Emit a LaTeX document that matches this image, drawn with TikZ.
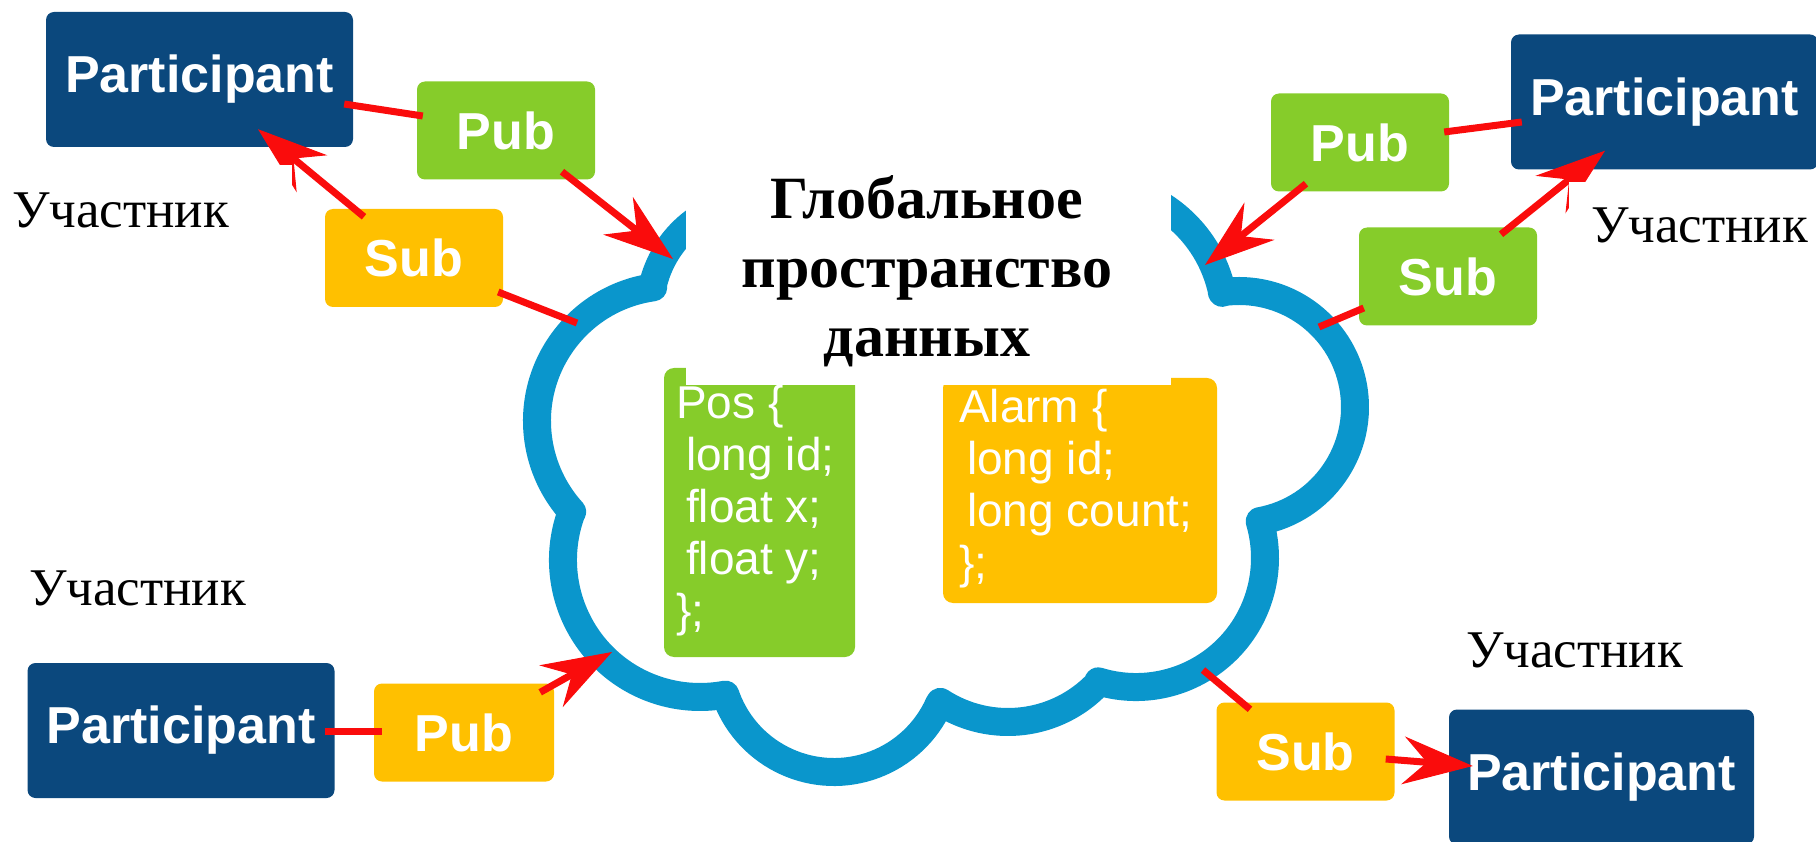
\documentclass[tikz,border=0pt]{standalone}
\usepackage{fontspec}
\setmainfont{Liberation Serif}
\newfontfamily\boxfont{Liberation Sans}
\usetikzlibrary{arrows.meta,calc}

\definecolor{partblue}{RGB}{11,72,125}
\definecolor{pubgreen}{RGB}{134,204,42}
\definecolor{subyellow}{RGB}{255,192,0}
\definecolor{cloudblue}{RGB}{10,150,204}
\definecolor{linkred}{RGB}{250,12,12}

\tikzset{
  box/.style={rectangle, rounded corners=8pt, inner sep=0pt, text=white,
    font=\boxfont\bfseries\fontsize{52}{60}\selectfont},
  partbox/.style={box, fill=partblue, minimum width=307pt, minimum height=135pt},
  smallbox/.style={box, minimum width=178pt, minimum height=98pt},
  greenbox/.style={smallbox, fill=pubgreen},
  yellowbox/.style={smallbox, fill=subyellow},
  typebox/.style={rectangle, rounded corners=10pt, inner sep=0pt},
  code/.style={align=left, inner sep=0pt, text=white, anchor=north west,
    font=\boxfont\fontsize{46}{52}\selectfont},
  heading/.style={align=center, inner sep=0pt, anchor=north,
    font=\bfseries\fontsize{60}{69}\selectfont},
  lbl/.style={inner sep=0pt, anchor=base west, font=\fontsize{53}{60}\selectfont},
  link/.style={draw=linkred, line width=7pt},
  flow/.style={link, -{Stealth[length=70pt, width=48pt, inset=24pt, line width=1pt]}},
}

\begin{document}
\begin{tikzpicture}[x=1pt, y=-1pt]
\useasboundingbox (0,0) rectangle (1816,842);

% the data space cloud, drawn lobe by lobe
\draw[cloudblue, line width=28pt, line join=round]
  (760,310) ++(270:110) arc[start angle=270, end angle=192, radius=110]
  -- ($(672,421)+(262:135)$) arc[start angle=262, end angle=137.7, radius=135]
  -- ($(700,560)+(200.6:137)$) arc[start angle=200.6, end angle=79.3, radius=137]
  -- ($(834,657)+(159.3:115)$) arc[start angle=159.3, end angle=24.1, radius=115]
  -- ($(1008,598)+(123.1:124)$) arc[start angle=123.1, end angle=43.0, radius=124]
  -- ($(1136,558)+(107.0:129)$) arc[start angle=107.0, end angle=-16.2, radius=129]
  -- ($(1239,407)+(79.7:116)$) arc[start angle=79.7, end angle=-98.5, radius=116]
  -- ($(1090,320)+(-11.6:135)$) arc[start angle=-11.6, end angle=-90, radius=135]
  -- cycle;

% data types inside the cloud
\node[typebox, fill=pubgreen, minimum width=191pt, minimum height=289pt] (pos) at (759.5,512.5) {};
\node[typebox, fill=subyellow, minimum width=274pt, minimum height=225pt] (alarm) at (1080,490.5) {};

% white panel behind the heading
\fill[white] (686,0) rectangle (1171,385);

\node[code] (posText) at (676,381.6)
  {\strut Pos \{\\\strut\hspace*{10pt}long id;\\\strut\hspace*{10pt}float x;\\\strut\hspace*{10pt}float y;\\\strut\};};
\node[code] (alarmText) at (959,385.6)
  {\strut Alarm \{\\\strut\hspace*{8pt}long id;\\\strut\hspace*{8pt}long count;\\\strut\};};

\node[heading] (gds) at (927,169.7)
  {\strut Глобальное\\\strut пространство\\\strut данных};

% cloud attachment points
\coordinate (cTLin)  at (673,259);
\coordinate (cTLsub) at (577,323);
\coordinate (cTRin)  at (1205,265);
\coordinate (cTRsub) at (1319,327);
\coordinate (cBLin)  at (612,652);
\coordinate (cBRsub) at (1203,670);

% participants with their publishers and subscribers
\node[partbox] (tlpart) at (199.5,79.5) {Participant};
\node[greenbox] (tlpub) at (506,130.5) {Pub};
\node[yellowbox] (tlsub) at (414,258) {Sub};

\node[partbox] (trpart) at (1664.5,102) {Participant};
\node[greenbox] (trpub) at (1360,142.5) {Pub};
\node[greenbox] (trsub) at (1448,276.5) {Sub};

\node[partbox] (blpart) at (181,730.5) {Participant};
\node[yellowbox, minimum width=180pt] (blpub) at (464,732.5) {Pub};

\node[yellowbox] (brsub) at (1305.5,751.5) {Sub};
\node[partbox, minimum width=305pt] (brpart) at (1601.5,777) {Participant};

% connectors
\draw[link] ($(tlpart.east)+(-9,24.5)$) -- ($(tlpub.west)+(6,-14.5)$);
\draw[flow] ($(tlsub.north)+(-50,8)$) -- ($(tlpart.south)+(58.5,-18)$);
\draw[flow] ($(tlpub.south)+(56,-8)$) -- (cTLin);
\draw[link] ($(tlsub.east)+(-5,34)$) -- (cTLsub);

\draw[link] ($(trpart.west)+(11,20)$) -- ($(trpub.east)+(-5,-10.5)$);
\draw[flow] ($(trpub.south)+(-54,-8)$) -- (cTRin);
\draw[flow] ($(trsub.north)+(53,7)$) -- ($(trpart.south)+(-59.5,-19)$);
\draw[link] ($(trsub.west)+(5,31.5)$) -- (cTRsub);

\draw[link] ($(blpart.east)+(-10,0.5)$) -- ($(blpub.west)+(8,-1.5)$);
\draw[flow] ($(blpub.north east)+(-14,9)$) -- (cBLin);

\draw[link] (cBRsub) -- ($(brsub.north)+(-55.5,7)$);
\draw[flow] ($(brsub.east)+(-9,7.5)$) -- ($(brpart.west)+(24,-11)$);

% caption backgrounds and captions
\fill[white] (0,165) rectangle (292,252);
\fill[white] (1569,182) rectangle (1816,262);
\node[lbl] (lblTL) at (12,228) {Участник};
\node[lbl] (lblTR) at (1591,243) {Участник};
\node[lbl] (lblBL) at (29,605) {Участник};
\node[lbl] (lblBR) at (1466,667) {Участник};
\end{tikzpicture}
\end{document}
